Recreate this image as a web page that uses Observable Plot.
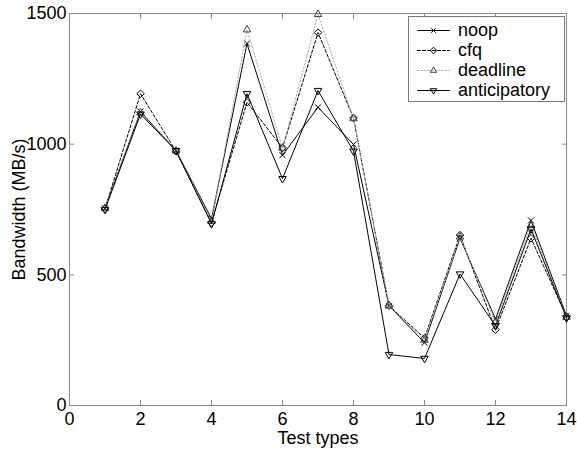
<!DOCTYPE html>
<html>
<head>
<meta charset="utf-8">
<script src="https://cdn.jsdelivr.net/npm/d3@7"></script>
<script src="https://cdn.jsdelivr.net/npm/@observablehq/plot@0.6"></script>
<style>
  html, body { margin: 0; padding: 0; background: #fff; }
  #wrap { position: relative; width: 577px; height: 449px; font-family: "Liberation Sans", Arial, Helvetica, sans-serif; }
  #legend { position: absolute; left: 408px; top: 16px; width: 157px; height: 86px; border: 1px solid #777; background: #fff; box-sizing: border-box; padding-top: 3px; }
  .row { display: flex; align-items: center; height: 20px; }
  .row svg { margin-left: 8px; margin-right: 9px; }
  .row span { font-size: 18px; color: #000; line-height: 20px; }
</style>
</head>
<body>
<div id="wrap"></div>
<script>
const testTypes = [1, 2, 3, 4, 5, 6, 7, 8, 9, 10, 11, 12, 13, 14];
const noop         = [755, 1125, 975, 715, 1385, 958, 1141, 999, 382, 240, 640, 331, 708, 343];
const cfq          = [752, 1193, 973, 700, 1160, 986, 1427, 1100, 382, 258, 652, 290, 640, 340];
const deadline     = [755, 1120, 975, 705, 1438, 985, 1497, 1098, 382, 250, 645, 320, 690, 338];
const anticipatory = [750, 1115, 975, 695, 1193, 868, 1205, 973, 195, 180, 503, 305, 675, 335];
const xTicks = [0, 2, 4, 6, 8, 10, 12, 14];
const yTicks = [0, 500, 1000, 1500];

const seriesNames = ["noop", "cfq", "deadline", "anticipatory"];
const seriesValues = [noop, cfq, deadline, anticipatory];
const styles = {
  noop:         {stroke: "#000", dash: null,    symbol: "times",     r: 2.8, rotate: 0,   mstroke: "#000"},
  cfq:          {stroke: "#000", dash: "3,2",   symbol: "diamond2",  r: 3.4, rotate: 0,   mstroke: "#000"},
  deadline:     {stroke: "#aaa", dash: "1.5,2", symbol: "triangle2", r: 3.6, rotate: 0,   mstroke: "#444"},
  anticipatory: {stroke: "#000", dash: null,    symbol: "triangle2", r: 3.6, rotate: 180, mstroke: "#000"}
};

const rows = [];
seriesNames.forEach((name, k) => {
  testTypes.forEach((t, i) => rows.push({series: name, x: t, y: seriesValues[k][i]}));
});

const marks = [];
for (const name of seriesNames) {
  const s = styles[name];
  const data = rows.filter(d => d.series === name);
  marks.push(Plot.line(data, {x: "x", y: "y", stroke: s.stroke, strokeWidth: 1, strokeDasharray: s.dash}));
  marks.push(Plot.dot(data, {x: "x", y: "y", symbol: s.symbol, r: s.r, rotate: s.rotate, fill: "none", stroke: s.mstroke, strokeWidth: 1}));
}

const fmt = d3.format("d");
const chart = Plot.plot({
  width: 577,
  height: 449,
  marginLeft: 69,
  marginRight: 11,
  marginTop: 13,
  marginBottom: 44,
  style: {font: "18px 'Liberation Sans', Arial, Helvetica, sans-serif", background: "#fff", color: "#000"},
  x: {domain: [0, 14]},
  y: {domain: [0, 1500]},
  marks: [
    Plot.frame({stroke: "#888"}),
    Plot.axisX(xTicks, {anchor: "bottom", tickSize: 0, tickPadding: 7, tickFormat: fmt, label: "Test types", labelAnchor: "center", labelArrow: "none", labelOffset: 38, stroke: "#888", fill: "#000"}),
    Plot.axisX(xTicks, {anchor: "bottom", tickSize: -5, fill: "none", stroke: "#888", label: null}),
    Plot.axisX(xTicks, {anchor: "top", tickSize: -5, fill: "none", stroke: "#888", label: null}),
    Plot.axisY(yTicks, {anchor: "left", tickSize: 0, tickPadding: 3, tickFormat: fmt, label: "Bandwidth (MB/s)", labelAnchor: "center", labelOffset: 57, labelArrow: "none", stroke: "#888", fill: "#000"}),
    Plot.axisY(yTicks, {anchor: "left", tickSize: -5, fill: "none", stroke: "#888", label: null}),
    Plot.axisY(yTicks, {anchor: "right", tickSize: -5, fill: "none", stroke: "#888", label: null}),
    ...marks
  ]
});

const wrap = document.getElementById("wrap");
wrap.appendChild(chart);

// Legend
const legend = document.createElement("div");
legend.id = "legend";
for (const name of seriesNames) {
  const s = styles[name];
  const row = document.createElement("div");
  row.className = "row";
  const sample = Plot.plot({
    width: 32, height: 20, margin: 0,
    x: {domain: [0, 1], axis: null},
    y: {domain: [0, 1], axis: null},
    style: {background: "transparent", overflow: "visible"},
    marks: [
      Plot.line([{x: 0, y: 0.5}, {x: 1, y: 0.5}], {x: "x", y: "y", stroke: s.stroke, strokeWidth: 1, strokeDasharray: s.dash}),
      Plot.dot([{x: 0.5, y: 0.5}], {x: "x", y: "y", symbol: s.symbol, r: name === "noop" ? 2.2 : 3, rotate: s.rotate, fill: "none", stroke: s.mstroke, strokeWidth: 1})
    ]
  });
  row.appendChild(sample);
  const label = document.createElement("span");
  label.textContent = name;
  row.appendChild(label);
  legend.appendChild(row);
}
wrap.appendChild(legend);
</script>
</body>
</html>
